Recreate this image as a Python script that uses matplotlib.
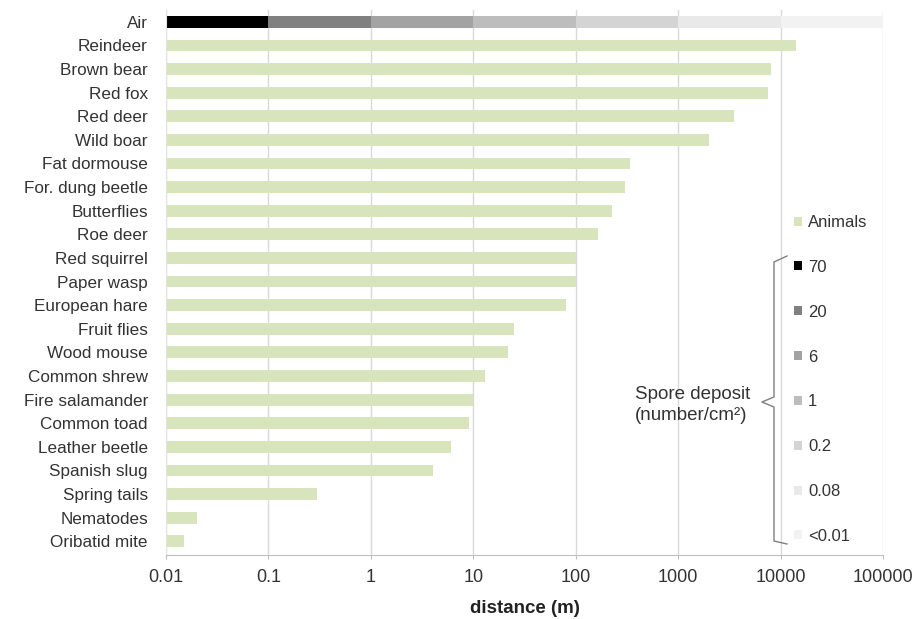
import matplotlib.pyplot as plt
from matplotlib.patches import Patch

plt.rcParams['font.family'] = ['Liberation Sans', 'DejaVu Sans']

# dispersal distance (m) reached by each vector
animals = ['Reindeer', 'Brown bear', 'Red fox', 'Red deer', 'Wild boar', 'Fat dormouse',
           'For. dung beetle', 'Butterflies', 'Roe deer', 'Red squirrel', 'Paper wasp',
           'European hare', 'Fruit flies', 'Wood mouse', 'Common shrew', 'Fire salamander',
           'Common toad', 'Leather beetle', 'Spanish slug', 'Spring tails', 'Nematodes',
           'Oribatid mite']
distance = [14000, 8000, 7500, 3500, 2000, 340, 300, 225, 165, 100, 100, 80, 25, 22,
            13, 10, 9, 6, 4, 0.3, 0.02, 0.015]

# airborne spore deposit per distance band
air_edges = [0.01, 0.1, 1, 10, 100, 1000, 10000, 100000]
deposit = ['70', '20', '6', '1', '0.2', '0.08', '<0.01']
deposit_colors = ['#000000', '#808080', '#a3a3a3', '#bdbdbd', '#d4d4d4', '#e9e9e9', '#f2f2f2']

green = '#d8e4bc'
text_col = '#333333'
base = 0.01

fig = plt.figure(figsize=(9.19, 6.19), dpi=100)
ax = fig.add_axes([166 / 919, 1 - 555 / 619, 717 / 919, 545 / 619])

labels = ['Air'] + animals
ypos = list(range(len(labels)))

handles = []
for i, lab in enumerate(deposit):
    left, right = air_edges[i], air_edges[i + 1]
    ax.barh(0, right - left, left=left, height=0.5, color=deposit_colors[i], zorder=2)
    handles.append(Patch(facecolor=deposit_colors[i], edgecolor='none', label=lab))

ax.barh(ypos[1:], [d - base for d in distance], left=base, height=0.5, color=green, zorder=2)

ax.set_xscale('log')
ax.set_xlim(0.01, 100000)
ax.set_ylim(len(labels) - 0.42, -0.5)
ax.set_yticks(ypos)
ax.set_yticklabels(labels, fontsize=12.3, color=text_col)
ax.tick_params(axis='y', length=0, pad=13)

ticks = [0.01, 0.1, 1, 10, 100, 1000, 10000, 100000]
ax.set_xticks(ticks)
ax.set_xticklabels(['0.01', '0.1', '1', '10', '100', '1000', '10000', '100000'],
                   fontsize=13, color=text_col)
ax.minorticks_off()
ax.tick_params(axis='x', length=3, color='#bfbfbf', pad=7)
ax.set_xlabel('distance (m)', fontsize=13.5, fontweight='bold', color='#222222', labelpad=10)

ax.grid(axis='x', color='#d9d9d9', linewidth=1, zorder=0)
ax.set_axisbelow(True)
for side in ['top', 'right']:
    ax.spines[side].set_visible(False)
ax.spines['left'].set_color('#e3e3e3')
ax.spines['bottom'].set_color('#bfbfbf')

animal_handle = Patch(facecolor=green, edgecolor='none', label='Animals')
leg = ax.legend(handles=[animal_handle] + handles, loc='upper left',
                bbox_to_anchor=((794 - 166) / 717, (555 - 215) / 545),
                frameon=False, fontsize=12, handlelength=0.45, handleheight=0.45,
                handletextpad=0.4, labelspacing=1.79, borderaxespad=0, borderpad=0)
for t in leg.get_texts():
    t.set_color(text_col)

# brace grouping the spore deposit classes
bx = [(787 - 166) / 717, (774 - 166) / 717, (774 - 166) / 717, (762 - 166) / 717,
      (774 - 166) / 717, (774 - 166) / 717, (787 - 166) / 717]
by = [(555 - 256) / 545, (555 - 262) / 545, (555 - 397) / 545, (555 - 402) / 545,
      (555 - 407) / 545, (555 - 541) / 545, (555 - 544) / 545]
ax.plot(bx, by, transform=ax.transAxes, color='#7f7f7f', linewidth=1, clip_on=False, zorder=3)
ax.text((635 - 166) / 717, (555 - 405) / 545, 'Spore deposit\n(number/cm\u00b2)',
        transform=ax.transAxes, fontsize=13.5, va='center', ha='left',
        linespacing=1.25, color=text_col)

fig.savefig('out.png', dpi=100)
